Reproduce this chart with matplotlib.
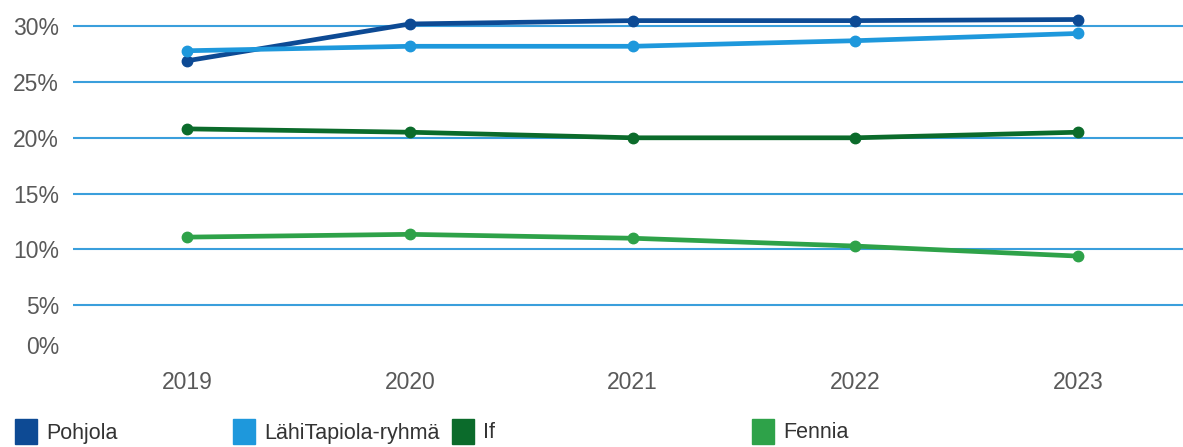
import matplotlib
matplotlib.use("Agg")
from matplotlib import pyplot as plt, patches

# Data
vuodet = [2019, 2020, 2021, 2022, 2023]
pohjola = [26.9, 30.2, 30.5, 30.5, 30.6]
lahitapiola = [27.8, 28.2, 28.2, 28.7, 29.35]
if_ = [20.8, 20.5, 20.0, 20.0, 20.5]
fennia = [11.1, 11.35, 11.0, 10.3, 9.4]

nimet = ["Pohjola", "LähiTapiola-ryhmä", "If", "Fennia"]
sarjat = [pohjola, lahitapiola, if_, fennia]
varit = ["#0d4a94", "#1e98dc", "#0b6b2b", "#2ea249"]

ytikit = [5, 10, 15, 20, 25, 30]

W, H = 1183, 447
fig = plt.figure(figsize=(W / 100, H / 100), dpi=100)
ax = fig.add_axes([73 / W, (H - 361) / H, 1 - 73 / W, 361 / H])

# Gridlines
for y in ytikit:
    ax.axhline(y, color="#3a9fdc", lw=1.5, zorder=1)

for arvot, vari in zip(sarjat, varit):
    ax.plot(vuodet, arvot, color=vari, lw=3.4, marker="o", markersize=7.5,
            solid_capstyle="round", zorder=3)

ax.set_xlim(2019 - 114 / 222.75, 2023 + 105 / 222.75)
ax.set_ylim(0, 361 / 11.16)

# 0% label sits a bit higher than the axis bottom in the original
ax.set_yticks([1.43] + ytikit)
ax.set_yticklabels(["0%"] + [f"{y}%" for y in ytikit])
ax.set_xticks(vuodet)
ax.set_xticklabels([str(v) for v in vuodet])

ax.tick_params(axis="y", length=0, pad=10, labelsize=16.5, labelcolor="#595959")
ax.tick_params(axis="x", length=0, pad=7, labelsize=16.5, labelcolor="#595959")
for lab in ax.get_xticklabels() + ax.get_yticklabels():
    lab.set_family(["Liberation Sans", "DejaVu Sans"])

for s in ax.spines.values():
    s.set_visible(False)

# Legend at the bottom
laatikko_x = [15, 233, 452, 752]
for nimi, vari, x in zip(nimet, varit, laatikko_x):
    fig.patches.append(patches.Rectangle((x / W, (H - 444) / H), 22 / W, 25 / H,
                                         transform=fig.transFigure, color=vari))
    fig.text((x + 31) / W, (H - 433) / H, nimi, va="center", ha="left",
             fontsize=15.5, color="#333333",
             family=["Liberation Sans", "DejaVu Sans"])

fig.savefig("out.png", dpi=100)
